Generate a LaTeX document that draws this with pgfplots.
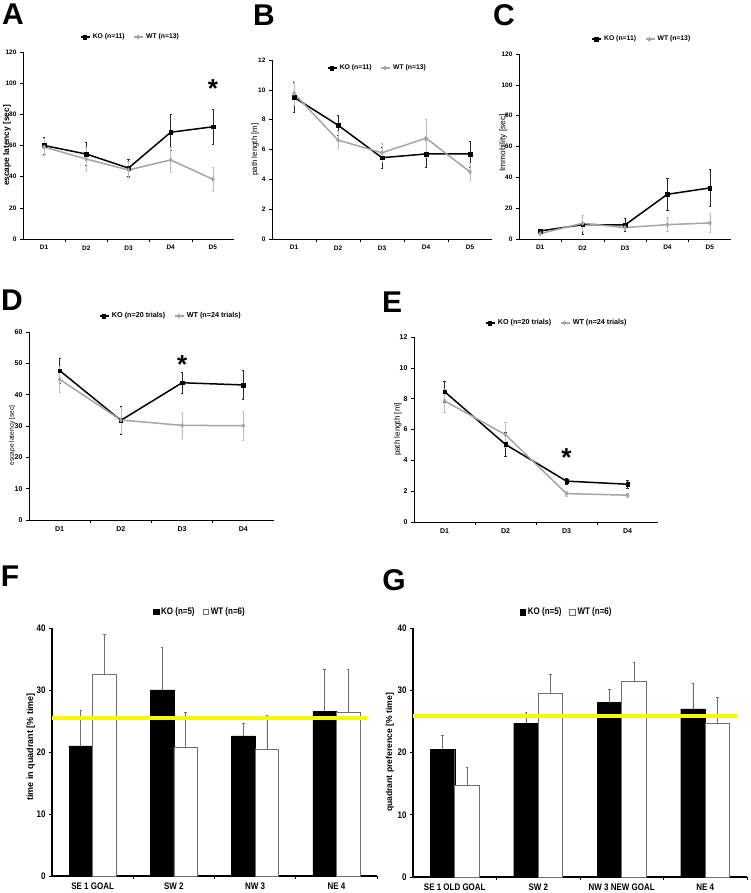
\documentclass[border=0pt]{standalone}
\usepackage{pgfplots}
\pgfplotsset{compat=1.18}
\usepackage{fontspec}
\setmainfont{Liberation Sans}
\setsansfont{Liberation Sans}
\newfontfamily\condb[FakeStretch=0.84]{Liberation Sans}
\definecolor{wtgray}{RGB}{165,165,165}
\definecolor{wterr}{RGB}{190,190,190}
\definecolor{koerr}{RGB}{40,40,40}
\definecolor{bargray}{RGB}{110,110,110}
\definecolor{ylw}{RGB}{250,248,0}

\pgfplotsset{
  base/.style={
    scale only axis, anchor=south west, clip=false,
    axis x line*=bottom, axis y line*=left,
    axis line style={-, black, line width=0.8pt},
    tick align=outside,
    /pgf/number format/assume math mode=true,
    xmin=0.5, ymin=0,
    ytick style={black, line width=0.6pt},
    major x tick style={draw=none},
    minor x tick style={black, line width=0.6pt},
    major tick length=3pt, minor tick length=3pt,
    minor xtick={1.5,2.5,3.5,4.5},
    legend columns=2,
  },
  lp/.style={base,
    xmax=5.5, xtick={1,...,5}, xticklabels={D1,D2,D3,D4,D5},
    tick label style={font=\fontsize{6.5}{7}\selectfont\bfseries},
    legend style={draw=none, fill=none, anchor=center, inner sep=0pt,
      font=\fontsize{6.8}{7}\selectfont\bfseries,
      /tikz/every even column/.append style={column sep=7pt}},
    legend image code/.code={\draw[mark repeat=2,mark phase=2,##1] plot coordinates {(0pt,0pt) (3.5pt,0pt) (9pt,0pt)};},
  },
  ko/.style={black, line width=1.5pt, mark=square*, mark size=1.8pt,
    mark options={solid, line width=0.4pt},
    error bars/y dir=both, error bars/y explicit,
    error bars/error bar style={koerr, line width=0.5pt},
    error bars/error mark options={koerr, rotate=90, mark size=1.1pt, line width=0.5pt}},
  wt/.style={wtgray, line width=1.5pt, mark=diamond*, mark size=2.2pt,
    mark options={solid, line width=0.4pt},
    error bars/y dir=both, error bars/y explicit,
    error bars/error bar style={wterr, line width=0.5pt},
    error bars/error mark options={wterr, rotate=90, mark size=1.1pt, line width=0.5pt}},
  bp/.style={base,
    xmax=4.5, xtick={1,...,4}, ymax=40, ytick={0,10,...,40},
    axis line style={-, black, line width=1.1pt},
    ytick style={black, line width=0.8pt},
    minor x tick style={black, line width=0.8pt},
    tick label style={font=\condb\fontsize{9.5}{10}\selectfont\bfseries},
    ylabel style={font=\fontsize{9}{10}\selectfont\bfseries, anchor=center},
    legend style={draw=none, fill=none, anchor=center, inner sep=0pt,
      font=\condb\fontsize{9.5}{10}\selectfont\bfseries,
      /tikz/every even column/.append style={column sep=6pt}},
    legend image code/.code={\draw[##1, line width=0.6pt] (0pt,-2.8pt) rectangle (5.6pt,2.8pt);},
  },
  kob/.style={ybar, bar shift=0pt, fill=black, draw=black,
    error bars/y dir=plus, error bars/y explicit,
    error bars/error bar style={bargray, line width=0.7pt},
    error bars/error mark options={bargray, rotate=90, mark size=1.2pt, line width=0.7pt}},
  wtb/.style={ybar, bar shift=0pt, fill=white, draw=bargray, line width=0.6pt,
    error bars/y dir=plus, error bars/y explicit,
    error bars/error bar style={bargray, line width=0.7pt},
    error bars/error mark options={bargray, rotate=90, mark size=1.2pt, line width=0.7pt}},
}

\begin{document}
\begin{tikzpicture}[x=1pt,y=1pt]
\path[use as bounding box] (0,0) rectangle (750,893);

% ---------- A ----------
\begin{axis}[lp, at={(23pt,654pt)}, width=211pt, height=187pt,
  ymax=120, ytick={0,20,...,120},
  ylabel={escape latency [sec]},
  ylabel style={font=\fontsize{8.3}{9}\selectfont\bfseries, at={(axis description cs:-0.076,0.5)}, anchor=center},
  legend style={at={(axis description cs:0.51,1.08)}}]
\addplot[ko] coordinates {(1,60) +- (0,5.5) (2,54.5) +- (0,7.5) (3,45.5) +- (0,5.5) (4,68.5) +- (0,11.8) (5,72) +- (0,11)};
\addlegendentry{KO (n=11)}
\addplot[wt] coordinates {(1,59) +- (0,5.5) (2,51.3) +- (0,7.6) (3,44.3) +- (0,5.6) (4,50.7) +- (0,8) (5,38.3) +- (0,7.5)};
\addlegendentry{WT (n=13)}
\node[font=\fontsize{26}{26}\selectfont\bfseries] at (axis cs:5,96.5) {*};
\end{axis}

% ---------- B ----------
\begin{axis}[lp, at={(272pt,654pt)}, width=220pt, height=179pt,
  ymax=12, ytick={0,2,...,12},
  ylabel={path length [m]},
  ylabel style={font=\fontsize{7.9}{9}\selectfont, at={(axis description cs:-0.077,0.5)}, anchor=center},
  legend style={at={(axis description cs:0.48,0.955)}}]
\addplot[ko] coordinates {(1,9.5) +- (0,1.0) (2,7.63) +- (0,0.67) (3,5.45) +- (0,0.68) (4,5.7) +- (0,0.9) (5,5.7) +- (0,0.87)};
\addlegendentry{KO (n=11)}
\addplot[wt] coordinates {(1,9.76) +- (0,0.8) (2,6.63) +- (0,0.56) (3,5.78) +- (0,0.62) (4,6.76) +- (0,1.25) (5,4.5) +- (0,0.56)};
\addlegendentry{WT (n=13)}
\end{axis}

% ---------- C ----------
\begin{axis}[lp, at={(519pt,654pt)}, width=212pt, height=185pt,
  ymax=120, ytick={0,20,...,120},
  ylabel={Immobility [sec]},
  ylabel style={font=\fontsize{8.3}{9}\selectfont, at={(axis description cs:-0.075,0.52)}, anchor=center},
  legend style={at={(axis description cs:0.58,1.08)}}]
\addplot[ko] coordinates {(1,5.2) +- (0,1) (2,9.3) +- (0,6) (3,9.1) +- (0,4.2) (4,29) +- (0,10.5) (5,33.1) +- (0,12)};
\addlegendentry{KO (n=11)}
\addplot[wt] coordinates {(1,3.5) +- (0,1) (2,10.2) +- (0,5.5) (3,7.4) +- (0,2) (4,9.3) +- (0,4.6) (5,10.4) +- (0,6)};
\addlegendentry{WT (n=13)}
\end{axis}

% ---------- D ----------
\begin{axis}[lp, at={(29pt,373pt)}, width=245pt, height=188pt,
  xmax=4.5, xtick={1,...,4}, xticklabels={D1,D2,D3,D4}, minor xtick={1.5,2.5,3.5},
  ymax=60, ytick={0,10,...,60},
  tick label style={font=\fontsize{7}{8}\selectfont\bfseries},
  legend style={font=\fontsize{7.2}{8}\selectfont\bfseries, at={(axis description cs:0.58,1.085)}},
  ylabel={escape latency [sec]},
  ylabel style={font=\fontsize{6.6}{8}\selectfont, at={(axis description cs:-0.069,0.45)}, anchor=center}]
\addplot[ko] coordinates {(1,47.7) +- (0,3.9) (2,31.8) +- (0,4.5) (3,43.8) +- (0,3.4) (4,43.1) +- (0,4.6)};
\addlegendentry{KO (n=20 trials)}
\addplot[wt] coordinates {(1,44.9) +- (0,4.1) (2,31.9) +- (0,4.2) (3,30.2) +- (0,4.1) (4,30.1) +- (0,4.6)};
\addlegendentry{WT (n=24 trials)}
\node[font=\fontsize{26}{26}\selectfont\bfseries] at (axis cs:3,49.5) {*};
\end{axis}

% ---------- E ----------
\begin{axis}[lp, at={(414pt,371pt)}, width=244pt, height=185pt,
  xmax=4.5, xtick={1,...,4}, xticklabels={D1,D2,D3,D4}, minor xtick={1.5,2.5,3.5},
  ymax=12, ytick={0,2,...,12},
  tick label style={font=\fontsize{7}{8}\selectfont\bfseries},
  legend style={font=\fontsize{7.2}{8}\selectfont\bfseries, at={(axis description cs:0.586,1.076)}},
  ylabel={path length [m]},
  ylabel style={font=\fontsize{8}{9}\selectfont, at={(axis description cs:-0.066,0.5)}, anchor=center}]
\addplot[ko] coordinates {(1,8.46) +- (0,0.7) (2,5.03) +- (0,0.76) (3,2.65) +- (0,0.2) (4,2.45) +- (0,0.25)};
\addlegendentry{KO (n=20 trials)}
\addplot[wt] coordinates {(1,7.86) +- (0,0.75) (2,5.66) +- (0,0.8) (3,1.84) +- (0,0.15) (4,1.74) +- (0,0.15)};
\addlegendentry{WT (n=24 trials)}
\node[font=\fontsize{26}{26}\selectfont\bfseries] at (axis cs:3,4.15) {*};
\end{axis}

% ---------- F ----------
\begin{axis}[bp, at={(52pt,17pt)}, width=325pt, height=248pt,
  xticklabels={SE 1 GOAL, SW 2, NW 3, NE 4},
  ylabel={time in quadrant [\% time]},
  ylabel style={at={(axis description cs:-0.065,0.52)}},
  legend style={at={(axis description cs:0.455,1.065)}}]
\addplot[kob, bar width=23.5pt] coordinates {(0.855,21.0) +- (0,5.7) (1.855,30.0) +- (0,6.8) (2.855,22.6) +- (0,2.1) (3.855,26.6) +- (0,6.7)};
\addlegendentry{KO (n=5)}
\addplot[wtb, bar width=23.5pt] coordinates {(1.145,32.6) +- (0,6.4) (2.145,20.8) +- (0,5.6) (3.145,20.5) +- (0,5.4) (4.145,26.4) +- (0,6.9)};
\addlegendentry{WT (n=6)}
\addplot[ylw, line width=4pt, forget plot] coordinates {(0.5,25.5) (4.38,25.5)};
\end{axis}

% ---------- G ----------
\begin{axis}[bp, at={(413pt,16pt)}, width=334pt, height=249pt,
  xticklabels={SE 1 OLD GOAL, SW 2, NW 3 NEW GOAL, NE 4},
  ylabel={quadrant preference [\% time]},
  ylabel style={font=\fontsize{8.6}{10}\selectfont\bfseries, at={(axis description cs:-0.069,0.5)}},
  legend style={at={(axis description cs:0.46,1.064)}}]
\addplot[kob, bar width=24.5pt] coordinates {(0.853,20.5) +- (0,2.3) (1.853,24.7) +- (0,1.8) (2.853,28.0) +- (0,2.2) (3.853,27.0) +- (0,4.1)};
\addlegendentry{KO (n=5)}
\addplot[wtb, bar width=24.5pt] coordinates {(1.147,14.7) +- (0,2.9) (2.147,29.5) +- (0,3.0) (3.147,31.5) +- (0,3.0) (4.147,24.7) +- (0,4.1)};
\addlegendentry{WT (n=6)}
\addplot[ylw, line width=4pt, forget plot] coordinates {(0.5,25.8) (4.38,25.8)};
\end{axis}

% ---------- panel letters ----------
\begin{scope}[every node/.style={font=\fontsize{30}{30}\selectfont\bfseries, inner sep=0pt}]
\node at (13,879) {A};
\node at (264,878) {B};
\node at (504,878) {C};
\node at (12,593) {D};
\node at (392,591) {E};
\node at (10,317) {F};
\node at (394,313) {G};
\end{scope}
\end{tikzpicture}
\end{document}
